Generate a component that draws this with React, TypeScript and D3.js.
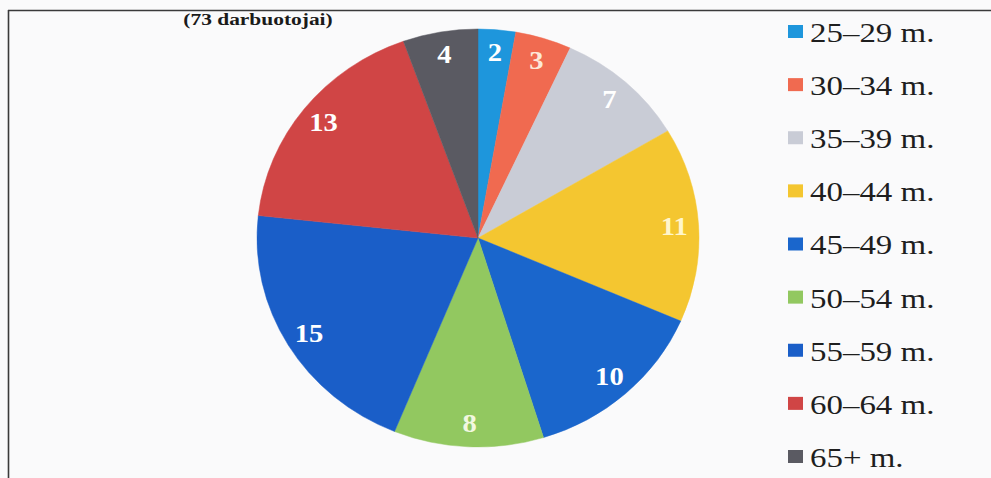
import React from "react";
import * as d3 from "d3";

const categories = ["25–29 m.", "30–34 m.", "35–39 m.", "40–44 m.", "45–49 m.", "50–54 m.", "55–59 m.", "60–64 m.", "65+ m."];
const values = [2, 3, 7, 11, 10, 8, 15, 13, 4];
const colors = ["#1e96dc", "#f06a50", "#c9ccd6", "#f4c630", "#1a66cc", "#92c860", "#1a5ec8", "#d04545", "#5a5a62"];
const labelColors = ["#ffffff", "#fde8d8", "#ffffff", "#fff6cc", "#ffffff", "#f2f8e0", "#ffffff", "#ffffff", "#ffffff"];
const title = "(73 darbuotojai)";

const W = 991;
const H = 478;

export default function App() {
  const cx = 478;
  const cy = 238;
  const rx = 221;
  const ry = 209;
  const sy = ry / rx;

  const pie = d3.pie<number>().sort(null).value((d) => d);
  const arcs = pie(values);
  const arc = d3.arc<d3.PieArcDatum<number>>().innerRadius(0).outerRadius(rx);
  const labelArc = d3.arc<d3.PieArcDatum<number>>().innerRadius(rx * 0.89).outerRadius(rx * 0.89);

  const legendY = d3.scalePoint<string>().domain(categories).range([32, 457]);

  return (
    <svg width={W} height={H} style={{ position: "absolute", left: 0, top: 0, background: "#fafafb" }}>
      <rect x={0} y={0} width={W} height={H} fill="#fafafb" />
      {/* frame */}
      <line x1={8} y1={10.5} x2={W} y2={10.5} stroke="#3a3a3a" strokeWidth={1.6} />
      <line x1={8.5} y1={10} x2={8.5} y2={H} stroke="#3a3a3a" strokeWidth={1.6} />

      {/* title */}
      <text
        transform={`translate(258,20) scale(1.34,1)`}
        textAnchor="middle"
        dominantBaseline="central"
        fontFamily="'Liberation Serif', 'Times New Roman', serif"
        fontWeight="bold"
        fontSize={16}
        fill="#1a1a1a"
      >
        {title}
      </text>

      {/* pie */}
      <g transform={`translate(${cx},${cy}) scale(1,${sy})`}>
        {arcs.map((a, i) => (
          <path key={i} d={arc(a) || ""} fill={colors[i]} stroke={colors[i]} strokeWidth={0.5} />
        ))}
      </g>
      {arcs.map((a, i) => {
        const [lx, ly] = labelArc.centroid(a);
        return (
          <text
            key={i}
            transform={`translate(${cx + lx},${cy + ly * sy}) scale(1.1,1)`}
            textAnchor="middle"
            dominantBaseline="central"
            fontFamily="'Liberation Serif', 'Times New Roman', serif"
            fontWeight="bold"
            fontSize={26}
            fill={labelColors[i]}
          >
            {values[i]}
          </text>
        );
      })}

      {/* legend */}
      {categories.map((c, i) => {
        const y = legendY(c) as number;
        return (
          <g key={c}>
            <rect x={788} y={y - 7} width={15} height={13} fill={colors[i]} />
            <text
              transform={`translate(810,${y + 1}) scale(1.22,1)`}
              dominantBaseline="central"
              fontFamily="'Liberation Serif', 'Times New Roman', serif"
              fontSize={27}
              fill="#1e1e1e"
            >
              {c}
            </text>
          </g>
        );
      })}
    </svg>
  );
}
